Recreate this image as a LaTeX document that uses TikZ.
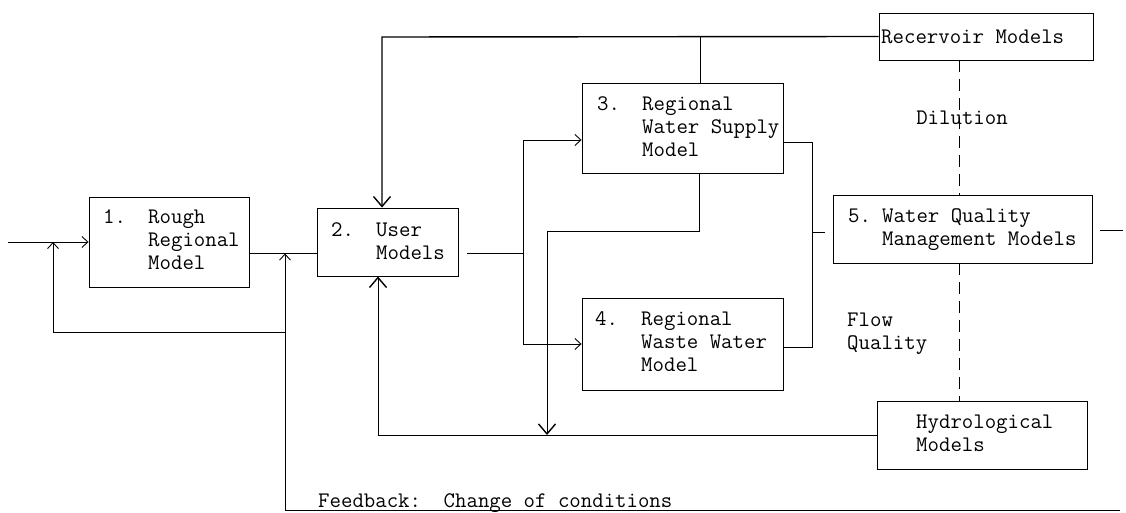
\documentclass[tikz,border=0pt]{standalone}
\usetikzlibrary{arrows.meta,calc}
\tikzset{
 box/.style={draw, line width=0.9pt, inner sep=0pt, rectangle},
 lbl/.style={inner sep=0pt, font=\ttfamily\fontsize{22.2}{23}\selectfont, align=left},
 ln/.style={line width=0.9pt},
 lnb/.style={line width=1.4pt},
 sarr/.style={-{Straight Barb[length=6pt,width=11pt,line width=0.9pt]}},
 barr/.style={-{Straight Barb[length=10pt,width=17pt,line width=1.4pt]}},
 dsh/.style={line width=0.9pt, dash pattern=on 12pt off 7pt},
}
\begin{document}
\begin{tikzpicture}[x=1pt,y=-1pt]
\useasboundingbox (0,0) rectangle (1126,513);
% boxes
\node[box, minimum width=160pt, minimum height=90pt] (b1) at (169,242) {};
\node[box, minimum width=141pt, minimum height=68pt] (b2) at (387.5,242) {};
\node[box, minimum width=201pt, minimum height=90pt] (b3) at (682.5,128) {};
\node[box, minimum width=201pt, minimum height=92pt] (b4) at (682.5,344) {};
\node[box, minimum width=259pt, minimum height=68pt] (b5) at (962.5,229) {};
\node[box, minimum width=214pt, minimum height=47pt] (rec) at (986,36.5) {};
\node[box, minimum width=210pt, minimum height=68pt] (hyd) at (982,435) {};
% texts
\node[lbl, anchor=west] (t1) at (103,242) {\begin{tabular}{@{}p{45pt}@{}l@{}}1.&Rough\\&Regional\\&Model\end{tabular}};
\node[lbl, anchor=west] (t2) at (331,243.5) {\begin{tabular}{@{}p{45pt}@{}l@{}}2.&User\\&Models\end{tabular}};
\node[lbl, anchor=west] (t3) at (597,129) {\begin{tabular}{@{}p{45pt}@{}l@{}}3.&Regional\\&Water Supply\\&Model\end{tabular}};
\node[lbl, anchor=west] (t4) at (595,344) {\begin{tabular}{@{}p{46pt}@{}l@{}}4.&Regional\\&Waste Water\\&Model\end{tabular}};
\node[lbl, anchor=west] (t5) at (848,229.5) {\begin{tabular}{@{}p{34pt}@{}l@{}}5.&Water Quality\\&Management Models\end{tabular}};
\node[lbl, anchor=west] (trec) at (881,37) {Recervoir Models};
\node[lbl, anchor=west] (thyd) at (916,435) {\begin{tabular}{@{}l@{}}Hydrological\\Models\end{tabular}};
\node[lbl] (dil) at (962,118) {Dilution};
\node[lbl, anchor=west] (fq) at (847,333.5) {\begin{tabular}{@{}l@{}}Flow\\Quality\end{tabular}};
\node[lbl, anchor=base west] (fb) at (318,507) {Feedback:\hspace{22.6pt}Change of conditions};
% coordinates
\coordinate (in) at (8,242);
\coordinate (fbL) at (53,332);
\coordinate (fbR) at (285,332);
\coordinate (bot) at (1120,510);
\coordinate (botL) at (285,510);
\coordinate (o2) at (467,253);
\coordinate (sp) at (523,253);
\coordinate (tl) at (382,37);
\coordinate (k1) at (547,231);
\coordinate (ll) at (378,435);
\coordinate (rr) at (812,347);
\coordinate (s1a) at (812,232);
\coordinate (s1b) at (825,232);
\coordinate (s2a) at (1100,230);
\coordinate (s2b) at (1123,230);
\coordinate (dx) at (959,0);
% connectors
\draw[ln,sarr] (in) -- (b1.west);
\draw[ln,sarr] (fbR) -- (fbL) -- (fbL |- b1.west);
\draw[ln,sarr] (bot) -- (botL) -- (285,253.5);
\draw[ln] ([yshift=-11pt]b1.east) -- ([yshift=-11pt]b2.west);
\draw[ln] (o2) -- (sp);
\draw[ln,sarr] (sp) |- ([yshift=-12pt]b3.west);
\draw[ln,sarr] (sp) |- (b4.west);
\draw[lnb,barr] (rec.west) -- (tl) -- (tl |- b2.north);
\draw[ln] ([xshift=17.5pt]b3.north) -- ([xshift=17.5pt]b3.north |- tl);
\draw[ln,barr] ([xshift=16.5pt]b3.south) |- (k1) -- (k1 |- hyd.west);
\draw[ln,barr] (hyd.west) -- (ll) -- (ll |- b2.south);
\draw[ln] ([yshift=-14pt]b3.east) -| (rr) -- ([yshift=-3pt]b4.east);
\draw[ln] (s1a) -- (s1b);
\draw[ln] (s2a) -- (s2b);
\draw[dsh] (rec.south -| dx) -- (b5.north -| dx);
\draw[dsh] (b5.south -| dx) -- (hyd.north -| dx);
\end{tikzpicture}
\end{document}
